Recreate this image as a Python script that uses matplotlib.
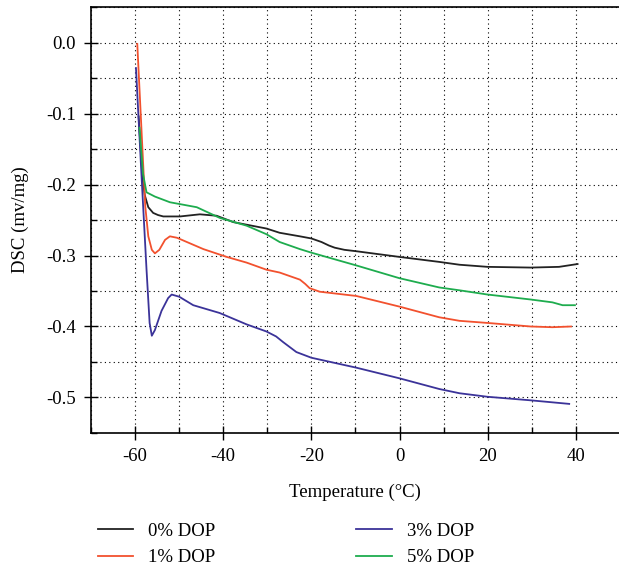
import numpy as np
import matplotlib.pyplot as plt
from matplotlib.ticker import MultipleLocator

plt.rcParams['font.family'] = ['Liberation Serif', 'DejaVu Serif']
plt.rcParams['axes.unicode_minus'] = False

# data (temperature in °C, DSC in mv/mg)
t_0 = [-59.2, -58.3, -57.8, -57.0, -55.9, -54.8, -53.6, -49.8, -45.3, -41.5, -37.7, -30.2,
       -27.2, -22.6, -20.0, -17.7, -16.0, -14.7, -12.5, -9.8, 0.0, 9.0, 13.6, 20.0, 29.8, 36.2, 40.4]
dsc_0 = [-0.104, -0.192, -0.215, -0.232, -0.240, -0.243, -0.245, -0.245, -0.242, -0.244, -0.253, -0.262,
         -0.268, -0.273, -0.276, -0.281, -0.286, -0.289, -0.292, -0.294, -0.302, -0.309, -0.313, -0.316, -0.317, -0.316, -0.312]

t_1 = [-59.5, -58.0, -57.7, -57.0, -56.2, -55.5, -54.5, -53.2, -52.1, -50.5, -47.5, -44.5,
       -39.2, -34.7, -30.2, -27.2, -22.6, -21.4, -20.4, -18.1, -9.8, 0.0, 9.0, 13.6, 20.0, 29.8, 34.7, 38.9]
dsc_1 = [-0.002, -0.192, -0.230, -0.273, -0.292, -0.297, -0.292, -0.278, -0.273, -0.275, -0.283, -0.291,
         -0.302, -0.310, -0.320, -0.324, -0.334, -0.340, -0.346, -0.351, -0.357, -0.372, -0.387, -0.392, -0.395, -0.400, -0.401, -0.400]

t_3 = [-59.8, -58.5, -57.4, -56.7, -56.2, -55.5, -54.0, -52.5, -51.7, -50.0, -46.8, -40.8,
       -34.7, -30.2, -28.0, -26.4, -23.4, -20.0, -9.8, 0.0, 9.0, 13.6, 20.0, 29.8, 38.5]
dsc_3 = [-0.036, -0.192, -0.320, -0.395, -0.413, -0.405, -0.378, -0.360, -0.355, -0.358, -0.370, -0.381,
         -0.397, -0.407, -0.414, -0.422, -0.436, -0.444, -0.458, -0.473, -0.488, -0.494, -0.499, -0.504, -0.509]

t_5 = [-59.0, -58.2, -57.4, -55.5, -52.1, -46.0, -40.8, -34.7, -30.2, -27.2, -22.6, -20.0,
       -9.8, 0.0, 9.0, 13.6, 20.0, 29.8, 34.7, 37.0, 39.8]
dsc_5 = [-0.120, -0.185, -0.211, -0.217, -0.225, -0.232, -0.247, -0.258, -0.270, -0.281, -0.291, -0.296,
         -0.314, -0.332, -0.345, -0.349, -0.355, -0.362, -0.366, -0.370, -0.370]

fig = plt.figure(figsize=(6.19, 5.70), dpi=100)
ax = fig.add_axes([91 / 619, 137 / 570, 528 / 619, 426 / 570])

ax.plot(t_0, dsc_0, color='#222222', lw=1.3, label='0% DOP')
ax.plot(t_1, dsc_1, color='#f2512e', lw=1.3, label='1% DOP')
ax.plot(t_3, dsc_3, color='#3b3399', lw=1.3, label='3% DOP')
ax.plot(t_5, dsc_5, color='#1eac4e', lw=1.3, label='5% DOP')

ax.set_xlim(-70, 49.8)
ax.set_ylim(-0.55, 0.05)
ax.xaxis.set_major_locator(MultipleLocator(20))
ax.xaxis.set_minor_locator(MultipleLocator(10))
ax.yaxis.set_minor_locator(MultipleLocator(0.05))
ax.set_yticks(np.arange(-0.5, 0.01, 0.1))
ax.set_yticklabels(['-0.5', '-0.4', '-0.3', '-0.2', '-0.1', '0.0'])
ax.grid(True, which='both', linestyle=(0, (1, 3)), color='black', lw=0.8)
ax.tick_params(which='major', direction='inout', length=10, width=1, labelsize=13.5, pad=6)
ax.tick_params(which='minor', direction='in', length=4, width=1)
ax.spines['right'].set_visible(False)
for s in ['left', 'bottom', 'top']:
    ax.spines[s].set_linewidth(1.2)

ax.set_xlabel('Temperature (°C)', fontsize=13.5, labelpad=13)
ax.set_ylabel('DSC (mv/mg)', fontsize=13.5, labelpad=12)

fig.legend(loc='upper left', bbox_to_anchor=(90 / 619, 1 - 515 / 570), ncol=2, frameon=False,
           fontsize=13.5, handlelength=1.9, handletextpad=0.8, columnspacing=7.5,
           labelspacing=0.5, borderaxespad=0)

fig.savefig('out.png', dpi=100)
